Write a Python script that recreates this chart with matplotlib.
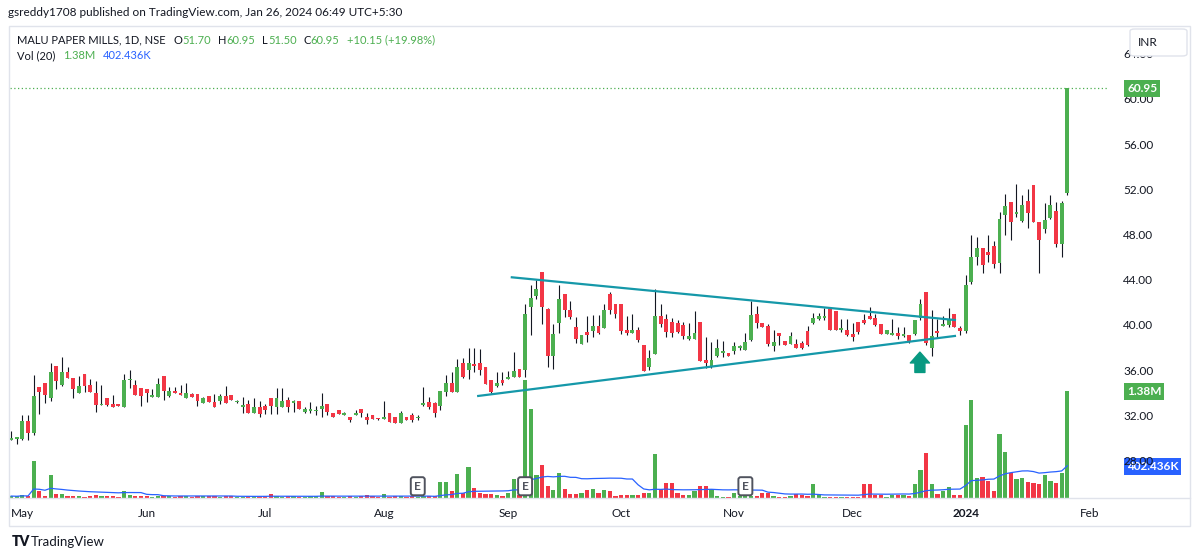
import numpy as np
import pandas as pd
import matplotlib
matplotlib.use('Agg')
import matplotlib.pyplot as plt
import matplotlib.transforms as mtransforms
from matplotlib.patches import Rectangle, FancyBboxPatch
from matplotlib.lines import Line2D

plt.rcParams['font.family'] = ['Lato', 'DejaVu Sans']

# daily OHLC, Apr 28 2023 .. Jan 25 2024
opens = [29.85, 29.9, 29.9, 31.5, 30.4, 34.5, 34.9, 33.5, 36.4, 34.7,
         35.8, 35.3, 34.0, 35.7, 34.7, 34.0, 32.9, 33.5, 33.0, 33.0,
         32.7, 35.1, 34.7, 34.4, 34.3, 33.6, 33.6, 35.5, 33.7, 34.2,
         34.0, 33.5, 33.9, 33.9, 33.1, 33.7, 33.2, 33.3, 33.7, 33.8,
         33.15, 32.75, 33.0, 32.2, 32.7, 32.8, 33.5, 32.7, 32.7, 33.4,
         33.1, 33.3, 32.3, 32.4, 32.35, 32.6, 33.0, 32.2, 32.5, 32.05,
         31.9, 32.0, 32.6, 31.9, 32.0, 31.75, 31.7, 32.2, 31.9, 31.3,
         31.9, 32.0, 31.75, 32.9, 33.2, 33.1, 32.8, 34.1, 34.9, 34.1,
         36.6, 36.0, 36.5, 36.6, 36.3, 35.1, 34.6, 35.1, 35.25, 35.4,
         36.1, 36.0, 41.6, 42.6, 44.7, 41.4, 37.3, 40.2, 42.7, 41.3,
         39.8, 38.3, 39.4, 39.5, 39.9, 39.7, 42.7, 41.9, 41.9, 39.6,
         39.3, 39.6, 38.2, 36.3, 37.4, 40.8, 40.5, 40.3, 40.2, 40.0,
         38.8, 38.8, 40.3, 36.9, 36.3, 37.3, 37.55, 37.5, 37.7, 37.95,
         37.8, 38.7, 41.0, 40.2, 39.9, 38.1, 39.3, 38.6, 38.3, 38.3,
         38.4, 39.5, 40.2, 40.5, 40.65, 41.4, 41.2, 39.55, 39.6, 39.2,
         40.3, 40.4, 40.8, 40.6, 40.1, 39.2, 39.1, 39.3, 39.05, 39.1,
         39.2, 40.6, 42.9, 38.0, 39.5, 39.95, 40.0, 41.0, 39.7, 39.5,
         43.8, 46.0, 46.8, 46.5, 47.0, 45.5, 49.7, 50.9, 49.85, 49.2,
         51.0, 52.4, 49.1, 48.5, 49.5, 50.1, 47.2, 51.70]
highs = [30.6, 30.0, 32.0, 32.0, 35.6, 34.5, 34.9, 36.6, 36.4, 37.2,
         36.3, 35.3, 35.5, 35.7, 35.2, 35.0, 34.7, 33.5, 33.8, 33.0,
         35.7, 36.0, 35.1, 34.4, 34.3, 34.3, 35.3, 35.5, 34.5, 34.5,
         34.7, 34.9, 34.0, 33.9, 33.6, 33.7, 33.9, 33.9, 34.6, 33.8,
         33.4, 33.6, 33.4, 33.5, 33.3, 33.0, 33.5, 34.4, 34.4, 33.6,
         33.4, 33.3, 32.7, 33.2, 32.8, 34.0, 33.0, 32.2, 32.5, 32.3,
         31.9, 32.5, 32.6, 32.2, 32.0, 31.8, 33.3, 32.2, 31.9, 32.4,
         31.9, 32.2, 32.0, 34.5, 33.6, 33.2, 34.2, 35.6, 35.8, 37.0,
         37.1, 38.0, 38.0, 37.9, 36.3, 35.1, 35.8, 35.8, 35.9, 37.6,
         36.1, 41.9, 43.5, 44.0, 44.7, 41.5, 40.1, 43.5, 42.7, 42.1,
         40.7, 39.1, 40.8, 40.9, 40.9, 41.9, 42.9, 41.9, 41.9, 40.8,
         41.0, 39.8, 38.2, 37.8, 43.2, 41.9, 41.0, 40.6, 40.4, 40.3,
         40.2, 41.2, 40.3, 38.9, 38.5, 38.8, 38.6, 37.5, 38.5, 38.2,
         39.3, 42.1, 41.7, 40.2, 40.1, 39.6, 39.3, 38.6, 39.4, 38.8,
         38.6, 39.9, 41.1, 41.1, 41.5, 41.4, 41.2, 40.5, 40.5, 40.2,
         40.3, 41.0, 41.6, 41.0, 40.1, 39.6, 40.5, 39.8, 39.8, 39.1,
         40.4, 42.3, 42.9, 41.3, 40.5, 40.8, 41.5, 41.0, 39.9, 44.4,
         48.0, 47.8, 46.8, 48.0, 47.4, 50.0, 51.6, 50.9, 52.5, 51.5,
         52.0, 52.4, 49.1, 50.8, 51.5, 50.9, 51.0, 60.95]
lows = [29.8, 29.5, 29.8, 29.8, 30.3, 32.1, 33.1, 33.3, 34.3, 34.6,
        35.3, 33.5, 34.0, 34.1, 34.1, 32.3, 32.9, 32.8, 32.7, 32.8,
        32.7, 34.4, 33.8, 32.8, 33.2, 33.6, 33.6, 33.4, 33.6, 34.0,
        33.8, 33.5, 33.6, 32.8, 33.1, 33.2, 32.7, 33.0, 33.1, 33.4,
        33.1, 32.2, 32.2, 32.2, 31.9, 32.1, 32.1, 32.1, 32.7, 32.3,
        32.3, 32.6, 32.2, 32.2, 32.0, 31.9, 32.0, 31.9, 32.1, 32.0,
        31.4, 32.0, 31.9, 31.2, 31.7, 31.6, 31.7, 31.4, 31.3, 31.3,
        31.6, 31.4, 31.6, 32.8, 32.6, 31.9, 32.5, 33.7, 34.1, 34.1,
        35.3, 35.2, 35.8, 35.6, 34.8, 34.0, 34.5, 34.7, 35.2, 35.4,
        35.4, 35.4, 39.1, 42.3, 40.1, 36.3, 36.1, 39.3, 40.7, 40.5,
        38.4, 38.3, 38.5, 38.9, 39.2, 39.7, 41.0, 40.6, 39.2, 39.1,
        39.3, 38.5, 35.9, 36.0, 37.4, 39.8, 38.9, 38.9, 39.3, 38.8,
        38.7, 38.8, 36.8, 36.2, 36.2, 37.2, 37.2, 37.3, 37.4, 37.8,
        37.8, 38.6, 39.7, 39.8, 38.1, 37.7, 38.2, 38.2, 38.3, 38.0,
        37.9, 38.1, 40.1, 40.4, 40.4, 39.6, 39.6, 39.4, 39.0, 38.6,
        39.2, 40.1, 40.5, 39.9, 39.2, 39.2, 39.1, 38.8, 38.9, 38.4,
        39.1, 40.4, 38.2, 37.3, 38.9, 39.9, 39.8, 39.8, 39.1, 39.3,
        43.6, 45.3, 44.6, 45.6, 45.0, 44.6, 48.0, 47.5, 49.6, 49.1,
        48.6, 49.1, 44.6, 48.1, 49.4, 46.9, 46.0, 51.50]
closes = [29.95, 29.95, 31.5, 30.4, 33.7, 34.1, 33.8, 35.8, 35.0, 35.8,
          35.3, 34.3, 34.6, 34.6, 34.1, 32.9, 33.0, 32.9, 32.7, 32.8,
          35.1, 35.2, 33.8, 33.7, 34.0, 33.8, 34.8, 34.2, 34.2, 34.0,
          33.8, 34.0, 33.6, 33.3, 33.5, 33.2, 32.7, 33.7, 33.1, 33.4,
          33.25, 32.85, 32.2, 32.7, 32.1, 32.5, 32.8, 33.5, 33.3, 32.7,
          33.3, 32.6, 32.6, 32.5, 32.45, 32.8, 32.3, 31.9, 32.1, 32.15,
          31.6, 32.2, 32.2, 31.6, 31.7, 31.65, 31.9, 31.4, 31.3, 32.2,
          31.6, 31.6, 31.85, 33.1, 32.7, 32.2, 34.2, 34.9, 34.1, 36.3,
          35.4, 36.6, 36.4, 36.0, 34.8, 34.1, 34.9, 34.9, 35.35, 35.9,
          35.4, 41.0, 42.4, 43.2, 41.6, 37.3, 39.2, 42.3, 41.3, 40.7,
          38.8, 39.1, 39.1, 39.9, 39.3, 41.3, 41.3, 41.0, 39.5, 39.3,
          39.6, 38.7, 35.9, 37.1, 40.8, 40.1, 39.4, 39.3, 39.4, 39.0,
          39.0, 39.3, 36.8, 36.6, 36.9, 38.0, 37.65, 37.3, 38.1, 38.05,
          38.5, 40.9, 40.2, 39.8, 38.3, 38.5, 39.0, 38.2, 39.0, 38.0,
          38.0, 38.2, 40.6, 40.8, 40.75, 39.6, 39.6, 39.65, 39.1, 38.9,
          39.4, 40.2, 40.5, 40.0, 39.2, 39.6, 39.3, 39.0, 39.15, 38.5,
          40.4, 41.9, 38.4, 39.0, 39.3, 40.05, 40.5, 39.8, 39.5, 43.5,
          46.0, 46.8, 45.3, 46.2, 45.4, 49.4, 50.5, 49.1, 49.95, 50.6,
          49.9, 49.1, 47.5, 49.3, 50.6, 47.2, 50.8, 60.95]
# volume in thousands
volumes_k = [25, 20, 40, 20, 475, 95, 26, 300, 52, 52,
             20, 26, 20, 18, 26, 40, 20, 26, 26, 8,
             87, 35, 26, 22, 20, 18, 20, 26, 20, 18,
             20, 25, 18, 26, 20, 22, 30, 18, 26, 20,
             15, 18, 22, 20, 18, 26, 52, 20, 18, 22,
             20, 18, 15, 20, 22, 74, 20, 22, 18, 15,
             20, 18, 22, 35, 20, 18, 56, 15, 20, 22,
             18, 20, 15, 20, 20, 20, 210, 210, 88, 316,
             66, 406, 131, 60, 48, 55, 45, 30, 70, 240,
             40, 1520, 1150, 300, 420, 160, 105, 325, 115, 55,
             50, 65, 109, 122, 65, 100, 87, 30, 44, 44,
             35, 35, 70, 70, 572, 122, 188, 200, 70, 35,
             44, 87, 149, 149, 118, 30, 15, 18, 65, 20,
             25, 25, 30, 60, 60, 25, 12, 18, 25, 52,
             40, 25, 183, 52, 18, 18, 12, 18, 18, 18,
             18, 175, 175, 40, 40, 18, 40, 40, 40, 30,
             183, 365, 575, 180, 57, 87, 140, 43, 43, 940,
             1270, 262, 271, 219, 87, 830, 590, 328, 249, 262,
             206, 188, 175, 293, 219, 188, 328, 1380]

month_labels = ['May', 'Jun', 'Jul', 'Aug', 'Sep', 'Oct', 'Nov', 'Dec', '2024', 'Feb']
month_bars = [2, 24, 45, 66, 88, 108, 128, 149, 169, 191]
price_ticks = [28, 32, 36, 40, 44, 48, 52, 56, 60, 64]
earnings_bars = [72, 91, 130]

# drawn triangle (bar index, price)
upper_x, upper_y = [88.65, 167.1], [44.22, 40.44]
lower_x, lower_y = [82.7, 167.1], [33.72, 39.03]
arrow_bar, arrow_from, arrow_to = 160.9, 35.8, 37.6

last_close = 60.95
last_vol = 1.38e6
vol_ma_label = 402436

GREEN = '#4CAF50'
RED = '#F23645'
BLUE = '#2962FF'
TEXT = '#131722'
BORDER = '#E0E3EB'

df = pd.DataFrame({'open': opens, 'high': highs, 'low': lows,
                   'close': closes, 'volume': np.array(volumes_k) * 1000.0})
df['vol_ma'] = df['volume'].rolling(20, min_periods=1).mean()
idx = np.arange(len(df))
up = df['close'] >= df['open']
colors = np.where(up, GREEN, RED)

W, H = 1200, 558
fig = plt.figure(figsize=(12, 5.58), dpi=100)


def fx(x):
    return x / W


def fy(y):
    return 1 - y / H


rect = [fx(9.5), fy(498), fx(1108 - 9.5), (498 - 27) / H]
xlim = (-0.28, 194.2)

# volume pane (underneath)
ax_v = fig.add_axes(rect)
ax_v.bar(idx, df['volume'], width=0.75, color=colors, linewidth=0)
ax_v.plot(idx, df['vol_ma'], color=BLUE, lw=0.9)
ax_v.set_xlim(xlim)
ax_v.set_ylim(0, 6.08e6)
ax_v.axis('off')

# price pane
ax = fig.add_axes(rect)
ax.patch.set_alpha(0)
ax.vlines(idx, df['low'], df['high'], color=TEXT, lw=0.8, zorder=2)
body_lo = np.minimum(df['open'], df['close'])
body_h = np.maximum((df['close'] - df['open']).abs(), 0.15)
ax.bar(idx, body_h, bottom=body_lo, width=0.68, color=colors, linewidth=0, zorder=3)

ax.plot(upper_x, upper_y, color='#1598A9', lw=1.6, zorder=4)
ax.plot(lower_x, lower_y, color='#1598A9', lw=1.6, zorder=4)
ax.annotate('', xy=(arrow_bar, arrow_to), xytext=(arrow_bar, arrow_from),
            arrowprops=dict(arrowstyle='simple,head_width=1.15,head_length=0.65,tail_width=0.6',
                            color='#089981', shrinkA=0, shrinkB=0, mutation_scale=12))
ax.axhline(last_close, color=GREEN, lw=0.9, linestyle=(0, (1, 2)))

ax.set_xlim(xlim)
ax.set_ylim(24.69, 66.37)
for s in ax.spines.values():
    s.set_visible(False)
ax.set_xticks(month_bars)
ax.set_xticklabels(month_labels)
ax.get_xticklabels()[8].set_fontweight('bold')
ax.tick_params(axis='x', length=0, pad=7, labelsize=8.5, colors=TEXT)
ax.yaxis.tick_right()
ax.set_yticks(price_ticks)
ax.set_yticklabels([f'{t:.2f}' for t in price_ticks])
ax.tick_params(axis='y', length=0, pad=11, labelsize=8.5, colors=TEXT)

# earnings markers
etrans = mtransforms.blended_transform_factory(ax_v.transData, ax_v.transAxes)
for b in earnings_bars:
    ax_v.text(b, 0.025, 'E', transform=etrans, ha='center', va='center', fontsize=8.5,
              color='#50535E', fontweight='bold', zorder=5,
              bbox=dict(boxstyle='round,pad=0.3,rounding_size=0.2', fc='white', ec='#50535E', lw=1.4))

# scale tags
ptrans = mtransforms.blended_transform_factory(fig.transFigure, ax.transData)
vtrans = mtransforms.blended_transform_factory(fig.transFigure, ax_v.transData)
ax.text(fx(1127), last_close, f'{last_close:.2f}', transform=ptrans, va='center', ha='left',
        fontsize=8.5, fontweight='bold', color='white', clip_on=False,
        bbox=dict(boxstyle='square,pad=0.25', fc=GREEN, ec='none'))
ax_v.text(fx(1127), last_vol, '1.38M', transform=vtrans, va='center', ha='left',
          fontsize=8.5, fontweight='bold', color='white', clip_on=False,
          bbox=dict(boxstyle='square,pad=0.25', fc=GREEN, ec='none'))
ax_v.text(fx(1127), vol_ma_label, '402.436K', transform=vtrans, va='center', ha='left',
          fontsize=8.5, fontweight='bold', color='white', clip_on=False, zorder=10,
          bbox=dict(boxstyle='square,pad=0.25', fc=BLUE, ec='none'))

# frame
fig.patches.append(Rectangle((fx(9), fy(526)), fx(1190 - 9), (526 - 26) / H, fill=False,
                             ec=BORDER, lw=1, transform=fig.transFigure))
fig.add_artist(Line2D([fx(9), fx(1190)], [fy(498), fy(498)], color=BORDER, lw=1))
fig.patches.append(FancyBboxPatch((fx(1130), fy(56)), fx(57), 27 / H,
                                  boxstyle='round,pad=0,rounding_size=0.004',
                                  fc='white', ec=BORDER, lw=1, transform=fig.transFigure))
fig.text(fx(1138), fy(42), 'INR', fontsize=8.5, color=TEXT, va='center')

# header and legend
fig.text(fx(8), fy(13), 'gsreddy1708 published on TradingView.com, Jan 26, 2024 06:49 UTC+5:30',
         fontsize=8.5, color=TEXT, va='center')

renderer = fig.canvas.get_renderer()


def text_row(x0, y, pieces, size):
    # pieces: (text, colour, gap in px before it)
    x = x0
    for t, c, gap in pieces:
        x += gap
        txt = fig.text(fx(x), fy(y), t, fontsize=size, color=c, va='center')
        x += txt.get_window_extent(renderer).width


text_row(17, 40, [('MALU PAPER MILLS, 1D, NSE', TEXT, 0), ('O', TEXT, 8), ('51.70', GREEN, 0),
                  ('H', TEXT, 7), ('60.95', GREEN, 0), ('L', TEXT, 7), ('51.50', GREEN, 0),
                  ('C', TEXT, 7), ('60.95', GREEN, 0), ('+10.15 (+19.98%)', GREEN, 7)], 8)
text_row(17, 55.5, [('Vol (20)', TEXT, 0), ('1.38M', GREEN, 8), ('402.436K', BLUE, 7)], 8)

fig.text(fx(12), fy(542), 'TV', fontsize=10, fontweight='heavy', color=TEXT, va='center')
fig.text(fx(31), fy(542), 'TradingView', fontsize=9.5, color=TEXT, va='center')

fig.savefig('out.png', dpi=100, facecolor='white')
